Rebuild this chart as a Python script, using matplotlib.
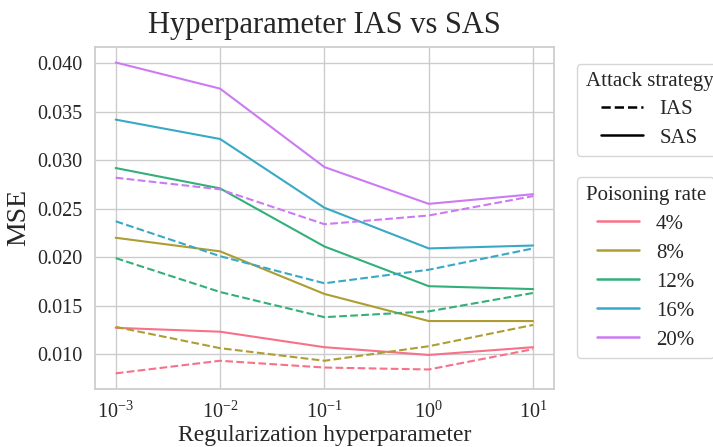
import matplotlib
matplotlib.use("Agg")
import matplotlib.pyplot as plt
import seaborn as sns
from matplotlib.lines import Line2D

sns.set_theme(style="whitegrid")
plt.rcParams['font.family'] = ['Liberation Serif', 'DejaVu Serif']
plt.rcParams['mathtext.fontset'] = 'stix'

lambdas = [1e-3, 1e-2, 1e-1, 1e0, 1e1]
rates = ["4%", "8%", "12%", "16%", "20%"]

sas = {
    "4%":  [0.0127, 0.0123, 0.0107, 0.0099, 0.0107],
    "8%":  [0.0220, 0.0206, 0.0162, 0.0134, 0.0134],
    "12%": [0.0292, 0.0271, 0.0211, 0.0170, 0.0167],
    "16%": [0.0342, 0.0322, 0.0251, 0.0209, 0.0212],
    "20%": [0.0401, 0.0374, 0.0293, 0.0255, 0.0265],
}
ias = {
    "4%":  [0.0080, 0.0093, 0.0086, 0.0084, 0.0105],
    "8%":  [0.0128, 0.0106, 0.0093, 0.0108, 0.0130],
    "12%": [0.0199, 0.0164, 0.0138, 0.0144, 0.0163],
    "16%": [0.0237, 0.0201, 0.0173, 0.0187, 0.0209],
    "20%": [0.0282, 0.0270, 0.0234, 0.0243, 0.0263],
}
yticks = [0.010, 0.015, 0.020, 0.025, 0.030, 0.035, 0.040]

colors = sns.color_palette("husl", 5)

fig = plt.figure(figsize=(7.13, 4.47), dpi=100)
ax = fig.add_axes([0.133, 0.130, 0.644, 0.765])

for r, c in zip(rates, colors):
    ax.plot(lambdas, ias[r], color=c, linestyle="--", linewidth=1.5)
    ax.plot(lambdas, sas[r], color=c, linestyle="-", linewidth=1.5)

ax.set_xscale("log")
ax.set_yticks(yticks)
ax.set_yticklabels([f"{v:.3f}" for v in yticks])
ax.tick_params(axis="both", labelsize=14.5, pad=3)
ax.set_xlabel("Regularization hyperparameter", fontsize=17, labelpad=2)
ax.set_ylabel("MSE", fontsize=20, labelpad=4)
ax.set_title("Hyperparameter IAS vs SAS", fontsize=22, pad=10)

h1 = [Line2D([], [], color="black", linestyle="--", linewidth=1.8),
      Line2D([], [], color="black", linestyle="-", linewidth=1.8)]
leg1 = ax.legend(h1, ["IAS", "SAS"], title="Attack strategy", loc="upper left",
                 bbox_to_anchor=(1.028, 0.982), fontsize=15, title_fontsize=15,
                 frameon=True, labelspacing=0.42)
ax.add_artist(leg1)
h2 = [Line2D([], [], color=c, linewidth=1.8) for c in colors]
ax.legend(h2, rates, title="Poisoning rate", loc="upper left",
          bbox_to_anchor=(1.028, 0.649), fontsize=15, title_fontsize=15,
          frameon=True, labelspacing=0.45)

fig.savefig("out.png", dpi=100)
